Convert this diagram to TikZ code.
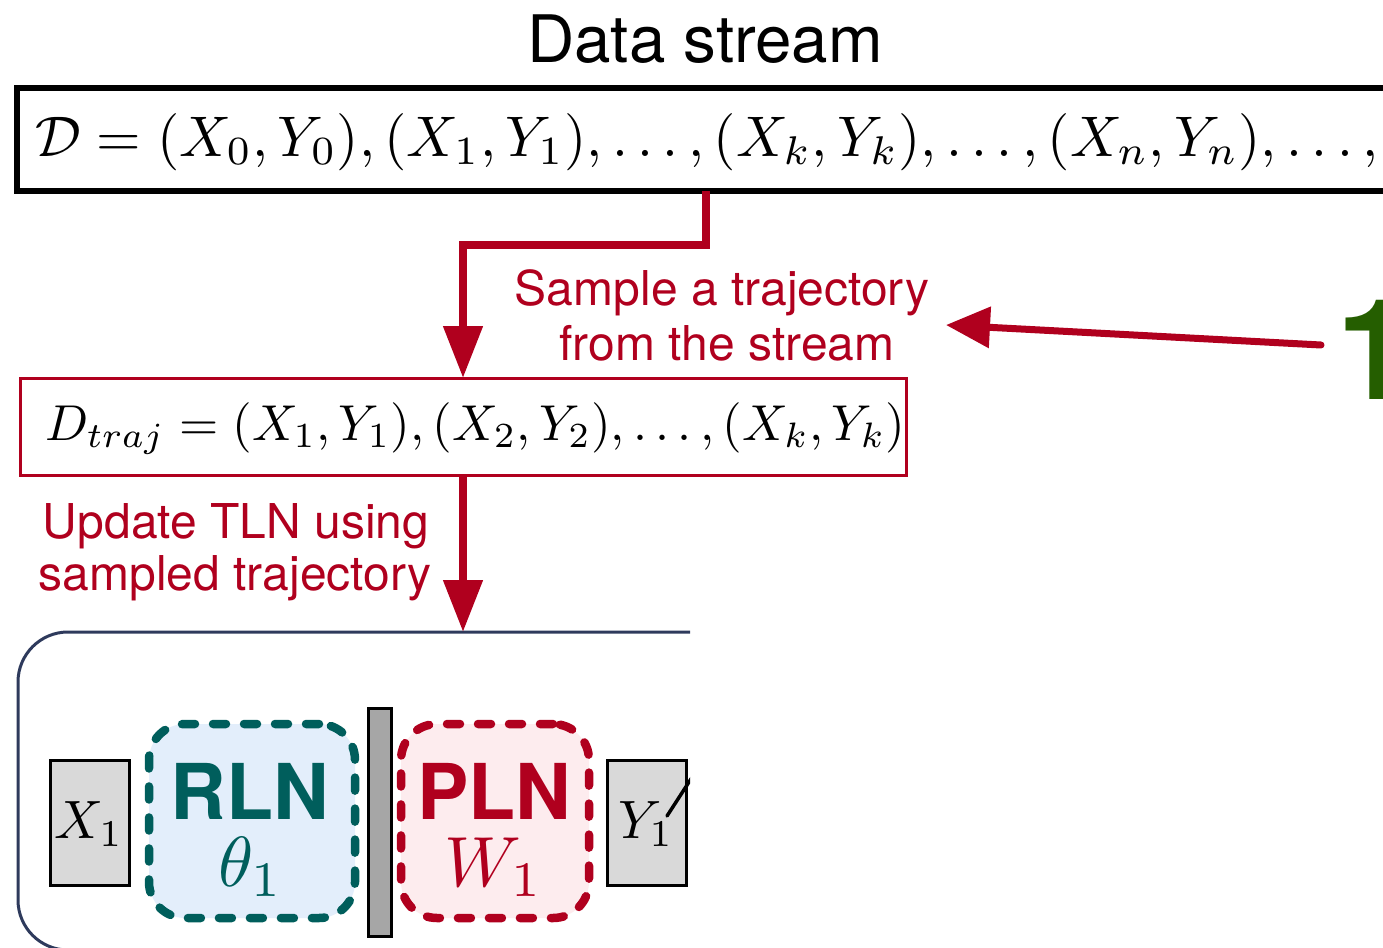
\documentclass[tikz,border=0pt]{standalone}
\usepackage[no-math]{fontspec}
\usepackage{graphicx}
\newfontfamily\hv{TeX Gyre Heros}
\usetikzlibrary{arrows.meta,calc}

\definecolor{flowred}{HTML}{B0001E}
\definecolor{rlnteal}{HTML}{005E5C}
\definecolor{rlnfill}{HTML}{E3EEFB}
\definecolor{plnfill}{HTML}{FDECEE}
\definecolor{framenavy}{HTML}{2E3A5C}
\definecolor{stepgreen}{HTML}{255E00}
\definecolor{tilegray}{HTML}{D9D9D9}
\definecolor{bargray}{HTML}{A6A6A6}

\newcommand\sz[1]{\fontsize{#1}{#1}\selectfont}

\tikzset{
  flow/.style={draw=flowred, line width=8pt, -{Triangle[length=52pt,width=38pt]}},
  pointer/.style={draw=flowred, line width=7pt, line cap=round, -{Triangle[length=44pt,width=40pt]}},
  redlabel/.style={text=flowred, inner sep=0pt, font=\hv\sz{48}},
  datatile/.style={draw=black, line width=3pt, fill=tilegray, minimum width=79pt, minimum height=125pt, inner sep=0pt, outer sep=0pt},
  dashblock/.style={line width=8.5pt, dash pattern=on 13pt off 18pt, line cap=round,
    rounded corners=36pt, minimum height=194pt, inner sep=0pt, outer sep=0pt},
  mathtext/.style={anchor=base, inner sep=0pt},
}

\begin{document}
\begin{tikzpicture}[x=1pt,y=-1pt]
\useasboundingbox (0,0) rectangle (1383,947);
\clip (0,0) rectangle (1383,947);

% title
\node[anchor=base, inner sep=0pt, font=\hv\sz{65.5}] (title) at (705,63) {Data stream};

% the full stream
\node[draw=black, line width=6pt, anchor=north west, minimum width=1450pt,
      minimum height=103pt, inner sep=0pt, outer sep=0pt] (stream) at (17,88) {};
\node[anchor=base west, inner sep=0pt] (streamtxt) at (35,156)
  {\resizebox{1343pt}{!}{$\mathcal{D} = (X_0,Y_0),(X_1,Y_1),\dots,(X_k,Y_k),\dots,(X_n,Y_n),\dots,$}};

% sampled trajectory
\node[draw=flowred, line width=3pt, minimum width=886pt, minimum height=97pt,
      inner sep=0pt, outer sep=0pt] (traj) at (463,426.5) {};
\node[anchor=base west, inner sep=0pt] (trajtxt) at (45,440)
  {\resizebox{860pt}{!}{$D_{traj} = (X_1,Y_1),(X_2,Y_2),\dots,(X_k,Y_k)$}};

% connectors and their labels
\coordinate (tap) at ([xshift=689pt]stream.south west);
\draw[flow] (tap) -- ++(0,54) -| (traj.north);

\node[redlabel, anchor=base] (sample1) at (722,305) {Sample a trajectory};
\node[redlabel, anchor=base] (sample2) at (727,360) {from the stream};

\node[redlabel, anchor=base] (update1) at (236,538) {Update TLN using};
\node[redlabel, anchor=base] (update2) at (235,590) {sampled trajectory};

% step marker
\node[anchor=base west, inner sep=0pt, text=stepgreen, font=\hv\bfseries\sz{140}] (stepnum) at (1336,399) {1};
\coordinate (ptail) at (1321,345);
\coordinate (phead) at (946,325);
\draw[pointer] (ptail) -- (phead);

% network
\begin{scope}
\clip (0,600) rectangle (690,947);
\node[draw=framenavy, line width=3pt, rounded corners=50pt, anchor=north west,
      minimum width=800pt, minimum height=318pt, inner sep=0pt, outer sep=0pt] (tln) at (18,632) {};

\node[datatile] (xin) at (89.5,822.5) {};
\node[mathtext] (xintxt) at (89,838) {\scalebox{5.4}{$X_1$}};

\node[dashblock, draw=rlnteal, fill=rlnfill, minimum width=206pt] (rln) at (252,821) {};
\node[anchor=base, inner sep=0pt, text=rlnteal, font=\hv\bfseries\sz{77}] (rlnname) at (250,819) {RLN};
\node[mathtext, text=rlnteal] (rlnparam) at (251,886) {\scalebox{7.1}{$\theta_1$}};

\node[draw=black, line width=3pt, fill=bargray, minimum width=23pt, minimum height=228pt,
      inner sep=0pt, outer sep=0pt] (bar) at (379.5,822) {};

\node[dashblock, draw=flowred, fill=plnfill, minimum width=188pt] (pln) at (495,821) {};
\node[anchor=base, inner sep=0pt, text=flowred, font=\hv\bfseries\sz{77}] (plnname) at (494,819) {PLN};
\node[mathtext, text=flowred] (plnparam) at (494,886) {\scalebox{7.1}{$W_1$}};

\node[datatile] (yout) at (646.5,822.5) {};
\node[mathtext] (youttxt) at (646,838) {\scalebox{5.4}{$Y_1$}};

\coordinate (outstart) at (667,816);
\coordinate (outend) at (700,765);
\draw[line width=3.5pt, line cap=round] (outstart) -- (outend);
\end{scope}

\draw[flow] (traj.south) -- (traj.south |- tln.north);
\end{tikzpicture}
\end{document}
